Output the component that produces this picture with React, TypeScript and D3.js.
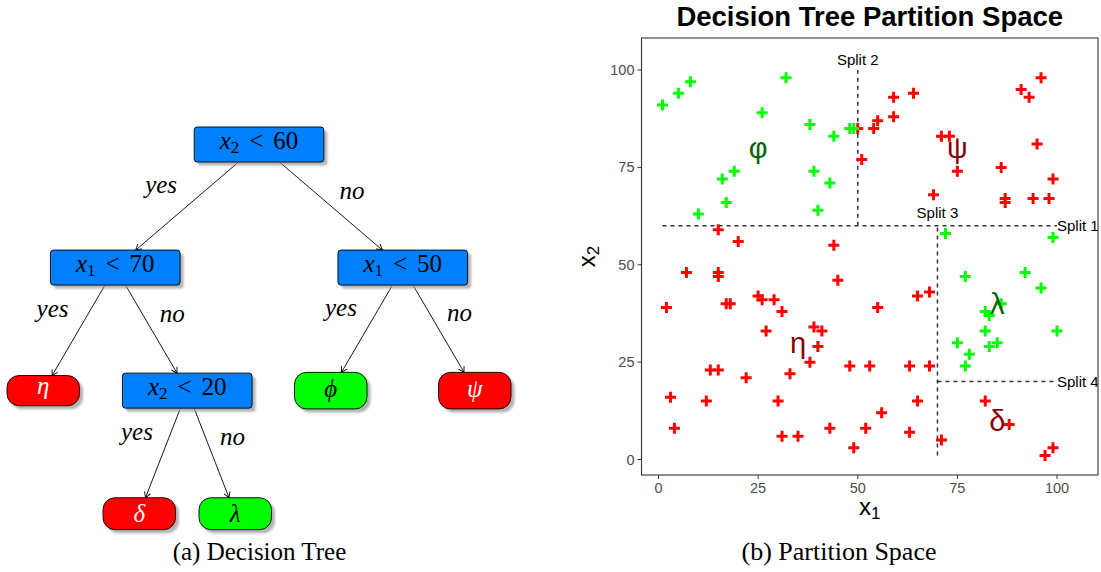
import * as d3 from "d3";

// ---- scatter data (partition space) ----
const greenX = [1, 5, 8, 32, 26, 38, 44, 48, 49, 16, 19, 39, 43, 17, 40, 10, 72, 99, 77, 92, 96, 86, 82, 83, 82, 100, 75, 83, 85, 78, 77];
const greenY = [91, 94, 97, 98, 89, 86, 83, 85, 85, 72, 74, 74, 71, 66, 64, 63, 58, 57, 47, 48, 44, 40, 38, 37, 33, 33, 30, 29, 30, 27, 24];

const redX = [
  50, 51, 54, 55, 59, 59, 64, 71, 73, 75, 69, 86, 87, 87, 94, 98, 99, 95, 91, 93, 96,
  15, 20, 44, 7, 15, 15, 45, 2, 17, 18, 25, 26, 29, 31, 27, 39, 41, 40, 38, 33, 48, 53, 63, 68,
  13, 15, 22, 3, 12, 30, 4, 31, 35, 43, 52, 49, 65, 68, 55, 65, 56, 63, 71,
  82, 88, 99, 97,
];
const redY = [
  85, 77, 85, 87, 88, 93, 94, 83, 83, 74, 68, 75, 67, 66, 67, 67, 72, 81, 95, 93, 98,
  59, 56, 55, 48, 48, 47, 46, 39, 40, 40, 42, 41, 41, 38, 33, 34, 33, 29, 25, 22, 24, 24, 24, 24,
  23, 23, 21, 16, 15, 15, 8, 6, 6, 8, 8, 3, 42, 43, 39, 15, 12, 7, 5,
  15, 9, 3, 1,
];

// splits: from / to in data units
const splitNames = ["Split 1", "Split 2", "Split 3", "Split 4"];
const splitFrom = [[1, 60], [50, 60], [70, 1], [70, 20]];
const splitTo = [[100, 60], [50, 100], [70, 60], [100, 20]];
const splitLabelPos = [[100, 60], [50, 102.7], [70, 63.5], [100, 20]];
const splitLabelAnchor = ["start", "middle", "middle", "start"];

const regionSymbols = ["φ", "ψ", "η", "λ", "δ"];
const regionPos = [[25, 80], [75, 80], [35, 30], [85, 40], [85, 10]];
const regionClass = ["green", "red", "red", "green", "red"];

const ticks = [0, 25, 50, 75, 100];

// ---- tree data ----
const nodeIds = ["root", "a", "b", "eta", "c", "phi", "psi", "delta", "lambda"];
const nodeParents = ["", "root", "root", "a", "a", "b", "b", "c", "c"];
const nodeBranch = ["", "yes", "no", "yes", "no", "yes", "no", "yes", "no"];
const nodeFeature = [2, 1, 1, 0, 2, 0, 0, 0, 0];
const nodeThreshold = [60, 70, 50, 0, 20, 0, 0, 0, 0];
const leafSymbol = ["", "", "", "η", "", "ϕ", "ψ", "δ", "λ"];
const leafClass = ["", "", "", "red", "", "green", "red", "red", "green"];

const RED = "#FF0000";
const GREEN = "#00FF00";
const BLUE = "#0080FF";
const SERIF = "'Liberation Serif', 'DejaVu Serif', serif";
const SANS = "'Liberation Sans', Arial, sans-serif";

// glyph height/depth in em (box sizing like tikz)
const glyphHD: Record<string, [number, number]> = {
  "η": [0.43, 0.19], "ϕ": [0.69, 0.19], "ψ": [0.69, 0.19], "δ": [0.69, 0], "λ": [0.69, 0],
};

function Tree() {
  const rows = nodeIds.map((id, i) => ({
    id, parent: nodeParents[i], branch: nodeBranch[i], feature: nodeFeature[i],
    threshold: nodeThreshold[i], symbol: leafSymbol[i], cls: leafClass[i],
  }));
  const root = d3.stratify<any>().id((d) => d.id).parentId((d) => d.parent || null)(rows);
  const levelY = d3.scaleLinear([0, 3], [144.5, 513.7]);
  const spread = [0, 143.75, 72, 48];
  const em = 24.5;
  const pos = new Map<string, { x: number; y: number; w: number; h: number }>();
  root.eachBefore((n: any) => {
    let x = 259;
    if (n.parent) {
      const p = pos.get(n.parent.id)!;
      const idx = n.parent.children.indexOf(n);
      x = p.x + (idx === 0 ? -1 : 1) * spread[n.depth];
    }
    const leaf = n.data.feature === 0;
    let h = 35;
    if (leaf) {
      const [gh, gd] = glyphHD[n.data.symbol];
      h = (gh + gd) * em + 15;
    }
    pos.set(n.id, { x, y: levelY(n.depth), w: leaf ? 72.5 : 129.6, h });
  });

  const nodes = root.descendants();
  const links = root.links();

  return (
    <g>
      <defs>
        <marker id="arr" viewBox="-6 -4 7 8" refX="0" refY="0" markerWidth="7" markerHeight="8" markerUnits="userSpaceOnUse" orient="auto">
          <path d="M-5.5,-3.2 Q-1.5,-0.8 0,0 Q-1.5,0.8 -5.5,3.2" fill="none" stroke="#000" strokeWidth="0.9" />
        </marker>
        <filter id="blur" x="-10%" y="-20%" width="120%" height="140%">
          <feGaussianBlur stdDeviation="1" />
        </filter>
      </defs>
      {links.map((l: any, i) => {
        const p = pos.get(l.source.id)!;
        const c = pos.get(l.target.id)!;
        const dy = c.y - p.y;
        const t1 = p.h / 2 / dy;
        const t2 = 1 - c.h / 2 / dy;
        const x1 = p.x + (c.x - p.x) * t1, y1 = p.y + dy * t1;
        const x2 = p.x + (c.x - p.x) * t2, y2 = p.y + dy * t2;
        const mx = (x1 + x2) / 2, my = (y1 + y2) / 2;
        const yes = l.target.data.branch === "yes";
        return (
          <g key={i}>
            <line x1={x1} y1={y1} x2={x2} y2={y2} stroke="#000" strokeWidth={0.9} markerEnd="url(#arr)" />
            <text x={yes ? mx - 26 : mx + 21} y={yes ? my - 13 : my - 7.5} textAnchor="middle"
              fontFamily={SERIF} fontStyle="italic" fontSize={25}>{l.target.data.branch}</text>
          </g>
        );
      })}
      {nodes.map((n: any) => {
        const b = pos.get(n.id)!;
        const leaf = n.data.feature === 0;
        const rx = leaf ? 12 : 3;
        const fill = leaf ? (n.data.cls === "red" ? RED : GREEN) : BLUE;
        let baseline = b.y + 4.8;
        if (leaf) {
          const [, gd] = glyphHD[n.data.symbol];
          baseline = b.y + b.h / 2 - 7.5 - gd * em;
        }
        return (
          <g key={n.id}>
            <rect x={b.x - b.w / 2 + 3.5} y={b.y - b.h / 2 + 3.5} width={b.w} height={b.h} rx={rx}
              fill="#9a9a9a" opacity={0.75} filter="url(#blur)" />
            <rect x={b.x - b.w / 2} y={b.y - b.h / 2} width={b.w} height={b.h} rx={rx}
              fill={fill} stroke="#000" strokeWidth={0.9} />
            {leaf ? (
              <text x={b.x} y={baseline} textAnchor="middle" fontFamily={SERIF} fontStyle="italic" fontSize={25}
                fill={n.data.cls === "red" ? "#fff" : "#000"}>{n.data.symbol}</text>
            ) : (
              <text x={b.x} y={baseline} textAnchor="middle" fontFamily={SERIF} fontSize={25} fill="#000">
                <tspan fontStyle="italic">x</tspan>
                <tspan fontSize={17} dy={4}>{n.data.feature}</tspan>
                <tspan dy={-4} dx={10}>&lt;</tspan>
                <tspan dx={10}>{n.data.threshold}</tspan>
              </text>
            )}
          </g>
        );
      })}
      <text x={259.5} y={560} textAnchor="middle" fontFamily={SERIF} fontSize={25}>(a) Decision Tree</text>
    </g>
  );
}

function Partition() {
  const left = 641.5, right = 1098, top = 38, bottom = 475;
  const x = d3.scaleLinear([0, 100], [658.5, 1057]);
  const y = d3.scaleLinear([0, 100], [459.5, 70]);
  const plus = "M-5.5,0H5.5M0,-5.5V5.5";
  return (
    <g>
      <defs>
        <clipPath id="panel">
          <rect x={left} y={top} width={right - left} height={bottom - top} />
        </clipPath>
      </defs>
      <text x={(left + right) / 2} y={25.5} textAnchor="middle" fontFamily={SANS} fontWeight="bold" fontSize={27.5}>
        Decision Tree Partition Space
      </text>
      <g clipPath="url(#panel)">
        {splitFrom.map((f, i) => (
          <line key={i} x1={x(f[0])} y1={y(f[1])} x2={x(splitTo[i][0])} y2={y(splitTo[i][1])}
            stroke="#333" strokeWidth={1.5} strokeDasharray="4,4" />
        ))}
        {redX.map((v, i) => (
          <path key={"r" + i} d={plus} transform={`translate(${x(v)},${y(redY[i])})`} stroke={RED} strokeWidth={3} />
        ))}
        {greenX.map((v, i) => (
          <path key={"g" + i} d={plus} transform={`translate(${x(v)},${y(greenY[i])})`} stroke={GREEN} strokeWidth={3} />
        ))}
        {splitNames.map((s, i) => (
          <text key={s} x={x(splitLabelPos[i][0])} y={y(splitLabelPos[i][1])} textAnchor={splitLabelAnchor[i]}
            dominantBaseline="central" fontFamily={SANS} fontSize={15}>{s}</text>
        ))}
        {regionSymbols.map((s, i) => (
          <text key={s} x={x(regionPos[i][0])} y={y(regionPos[i][1])} textAnchor="middle" dominantBaseline="central"
            fontFamily={SANS} fontSize={29} fill={regionClass[i] === "red" ? "#8B0000" : "#006400"}>{s}</text>
        ))}
      </g>
      <rect x={left} y={top} width={right - left} height={bottom - top} fill="none" stroke="#333" strokeWidth={1.1} />
      {ticks.map((t) => (
        <g key={"x" + t}>
          <line x1={x(t)} x2={x(t)} y1={bottom} y2={bottom + 4} stroke="#333" />
          <text x={x(t)} y={493} textAnchor="middle" fontFamily={SANS} fontSize={14.5} fill="#4D4D4D">{t}</text>
        </g>
      ))}
      {ticks.map((t) => (
        <g key={"y" + t}>
          <line x1={left - 4} x2={left} y1={y(t)} y2={y(t)} stroke="#333" />
          <text x={634.5} y={y(t)} textAnchor="end" dominantBaseline="central" fontFamily={SANS} fontSize={14.5} fill="#4D4D4D">{t}</text>
        </g>
      ))}
      <text x={(left + right) / 2} y={514.7} textAnchor="middle" fontFamily={SANS} fontSize={24}>
        x<tspan fontSize={17} dy={4}>1</tspan>
      </text>
      <text transform={`translate(595,${(top + bottom) / 2}) rotate(-90)`} textAnchor="middle" fontFamily={SANS} fontSize={24}>
        x<tspan fontSize={17} dy={4}>2</tspan>
      </text>
      <text x={839} y={560} textAnchor="middle" fontFamily={SERIF} fontSize={26}>(b) Partition Space</text>
    </g>
  );
}

export default function App() {
  return (
    <svg width={1101} height={572} style={{ position: "absolute", left: 0, top: 0, background: "#fff" }}>
      <rect width={1101} height={572} fill="#fff" />
      <Tree />
      <Partition />
    </svg>
  );
}
